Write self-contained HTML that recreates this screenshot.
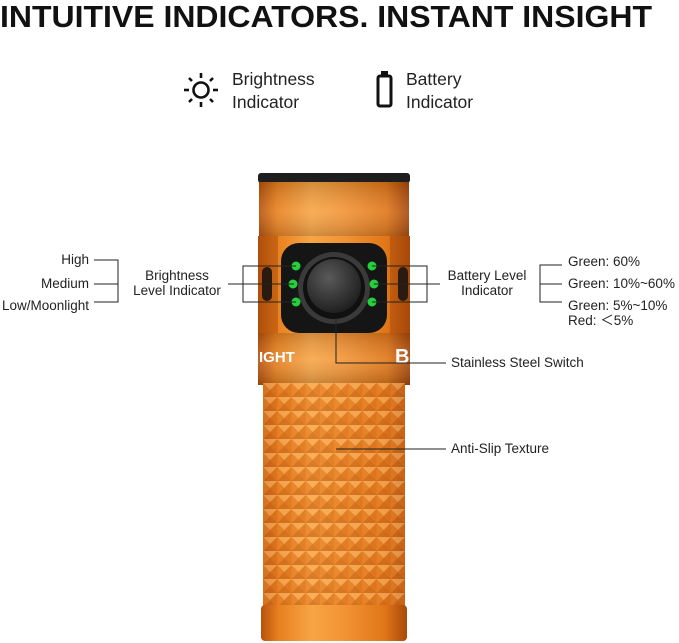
<!DOCTYPE html>
<html><head><meta charset="utf-8"><style>
html,body{margin:0;padding:0;background:#fff;}
body{width:679px;height:643px;position:relative;overflow:hidden;font-family:"Liberation Sans",sans-serif;}
</style></head><body>
<svg width="679" height="643" viewBox="0 0 679 643" xmlns="http://www.w3.org/2000/svg" style="position:absolute;left:0;top:0">
<defs>
<linearGradient id="or" x1="0" x2="1" y1="0" y2="0">
<stop offset="0" stop-color="#b8520c"/><stop offset="0.12" stop-color="#e8801e"/><stop offset="0.35" stop-color="#f7a545"/><stop offset="0.55" stop-color="#f39536"/><stop offset="0.85" stop-color="#e07618"/><stop offset="1" stop-color="#a8480a"/>
</linearGradient>
<linearGradient id="vt" x1="0" x2="0" y1="0" y2="1">
<stop offset="0" stop-color="#000" stop-opacity="0.15"/><stop offset="0.5" stop-color="#fff" stop-opacity="0.1"/><stop offset="1" stop-color="#000" stop-opacity="0.2"/>
</linearGradient>
<pattern id="tex" x="263" y="383" width="14.2" height="14" patternUnits="userSpaceOnUse">
<rect width="14.2" height="14" fill="#ef8f32"/>
<polygon points="0,0 14.2,0 7.1,7" fill="#f9b566"/>
<polygon points="0,0 7.1,7 0,14" fill="#e5822a"/>
<polygon points="14.2,0 14.2,14 7.1,7" fill="#d9721c"/>
<polygon points="0,14 14.2,14 7.1,7" fill="#c9661a"/>
</pattern>
<radialGradient id="btn" cx="0.4" cy="0.35" r="0.7"><stop offset="0" stop-color="#5a5a5a"/><stop offset="1" stop-color="#1c1c1c"/></radialGradient>
</defs>
<text x="0" y="27" font-size="31" font-weight="bold" fill="#111" textLength="652" lengthAdjust="spacingAndGlyphs">INTUITIVE INDICATORS. INSTANT INSIGHT</text>
<g stroke="#111" stroke-width="2.6" fill="none">
<circle cx="201" cy="90" r="7.5"/>
<line x1="201" y1="73" x2="201" y2="78"/><line x1="201" y1="102" x2="201" y2="107"/>
<line x1="184" y1="90" x2="189" y2="90"/><line x1="213" y1="90" x2="218" y2="90"/>
<line x1="189" y1="78" x2="192" y2="81"/><line x1="210" y1="99" x2="213" y2="102"/>
<line x1="213" y1="78" x2="210" y2="81"/><line x1="189" y1="102" x2="192" y2="99"/>
</g>
<rect x="378" y="76" width="13" height="30" rx="2" fill="none" stroke="#111" stroke-width="3"/>
<rect x="381" y="71" width="7" height="4" fill="#111"/>
<text x="232" y="85" font-size="17.5" fill="#222">Brightness</text>
<text x="232" y="108" font-size="17.5" fill="#222">Indicator</text>
<text x="406" y="85" font-size="17.5" fill="#222">Battery</text>
<text x="406" y="108" font-size="17.5" fill="#222">Indicator</text>
<rect x="258" y="173" width="152" height="10" rx="3" fill="#1e1e1e"/>
<rect x="259" y="182" width="150" height="58" fill="url(#or)"/>
<rect x="259" y="182" width="150" height="58" fill="url(#vt)"/>
<rect x="258" y="236" width="152" height="100" fill="url(#or)"/>
<rect x="258" y="236" width="20" height="100" fill="#a84a0a" opacity="0.5"/>
<rect x="390" y="236" width="20" height="100" fill="#a84a0a" opacity="0.5"/>
<rect x="262" y="267" width="10" height="34" rx="5" fill="#2a1a10"/>
<rect x="398" y="267" width="10" height="34" rx="5" fill="#2a1a10"/>
<rect x="281" y="243" width="106" height="90" rx="18" fill="#151515"/>
<circle cx="334" cy="288" r="36" fill="#3a3a3a"/>
<circle cx="334" cy="288" r="31" fill="#101010"/>
<circle cx="334" cy="286" r="27" fill="url(#btn)"/>
<g fill="#25d03a"><circle cx="296" cy="266" r="4.5"/><circle cx="293" cy="284" r="4.5"/><circle cx="296" cy="302" r="4.5"/>
<circle cx="372" cy="266" r="4.5"/><circle cx="374" cy="284" r="4.5"/><circle cx="372" cy="302" r="4.5"/></g>
<rect x="258" y="333" width="152" height="52" fill="url(#or)"/>
<rect x="258" y="333" width="152" height="52" fill="url(#vt)"/>
<text x="259" y="362" font-size="15" font-weight="bold" fill="#fff">IGHT</text>
<text x="395" y="363" font-size="20" font-weight="bold" fill="#fff">Ba</text>
<rect x="263" y="383" width="142" height="224" fill="url(#tex)"/>
<rect x="263" y="383" width="142" height="224" fill="url(#or)" opacity="0.35"/>
<rect x="261" y="605" width="146" height="36" rx="4" fill="url(#or)"/>
<g stroke="#222" stroke-width="1" fill="none">
<polyline points="94,260 118,260 118,302 94,302"/>
<line x1="94" y1="284" x2="118" y2="284"/>
<line x1="228" y1="284" x2="294" y2="284"/>
<polyline points="296,266 243,266 243,302 296,302"/>
<polyline points="372,266 427,266 427,302 372,302"/>
<line x1="374" y1="284" x2="440" y2="284"/>
<polyline points="562,265 540,265 540,302 562,302"/>
<line x1="540" y1="284" x2="562" y2="284"/>
<polyline points="336,318 336,363 446,363"/>
<line x1="336" y1="449" x2="446" y2="449"/>
</g>
<g font-size="13.5" fill="#222">
<text x="89" y="264" text-anchor="end">High</text>
<text x="89" y="288" text-anchor="end">Medium</text>
<text x="89" y="310" text-anchor="end">Low/Moonlight</text>
<text x="177" y="280" text-anchor="middle">Brightness</text>
<text x="177" y="295" text-anchor="middle">Level Indicator</text>
<text x="487" y="280" text-anchor="middle">Battery Level</text>
<text x="487" y="295" text-anchor="middle">Indicator</text>
<text x="568" y="266">Green:  60%</text>
<text x="568" y="288">Green: 10%~60%</text>
<text x="568" y="310">Green: 5%~10%</text>
<text x="568" y="325">Red: ＜5%</text>
<text x="451" y="367">Stainless Steel Switch</text>
<text x="451" y="453">Anti-Slip Texture</text>
</g>
</svg>
</body></html>
